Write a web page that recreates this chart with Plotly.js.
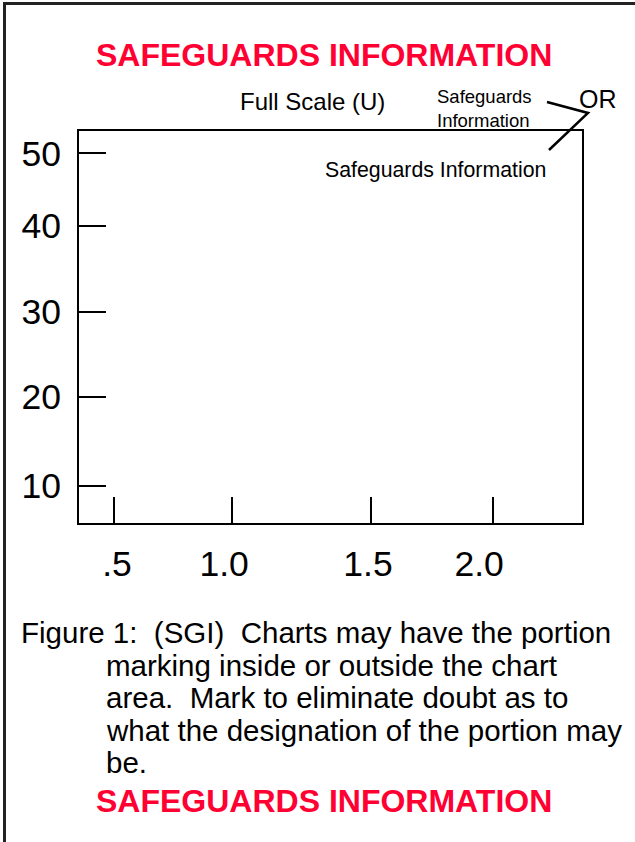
<!DOCTYPE html>
<html>
<head>
<meta charset="utf-8">
<script src="https://cdn.plot.ly/plotly-3.0.1.min.js"></script>
<style>
  html, body { margin: 0; padding: 0; background: #fff; }
  #chart { width: 635px; height: 842px; }
</style>
</head>
<body>
<div id="chart"></div>
<script>
// ---- data ----
var xTickVals   = [0.5, 0.968, 1.516, 2.0];      // positions of the tick marks
var xLabelVals  = [0.512, 0.936, 1.505, 1.945];  // positions of the tick labels
var xTickText   = ['.5', '1.0', '1.5', '2.0'];
var xRange      = [0.3615, 2.352];
var yTickVals   = [10, 20.71, 30.94, 41.28, 50];
var yTickText   = ['10', '20', '30', '40', '50'];
var yRange      = [5.51, 52.68];

var titleText   = 'SAFEGUARDS INFORMATION';
var scaleText   = 'Full Scale (U)';
var smallMark   = 'Safeguards<br>Information';
var orText      = 'OR';
var insideMark  = 'Safeguards Information';
var captionLines = [
  'Figure 1:  (SGI)  Charts may have the portion',
  'marking inside or outside the chart',
  'area.  Mark to eliminate doubt as to',
  'what the designation of the portion may',
  'be.'
];

// ---- layout geometry ----
var W = 635, H = 842;
var L = 79, T = 131, PW = 503, PH = 392;
function px(x) { return (x - L) / PW; }
function py(y) { return 1 - (y - T) / PH; }

var FONT = 'Liberation Sans, Arial, Helvetica, sans-serif';
var RED = '#ff0033';

var annotations = [];
function ann(text, x, y, size, opts) {
  var a = {
    text: text, x: px(x), y: py(y), xref: 'paper', yref: 'paper',
    showarrow: false, xanchor: 'left', yanchor: 'middle',
    font: { family: FONT, size: size, color: '#000' }
  };
  for (var k in (opts || {})) a[k] = opts[k];
  return a;
}

annotations.push(ann('<b>' + titleText + '</b>', 324, 55, 32, { xanchor: 'center',
  font: { family: FONT, size: 32, color: RED } }));
annotations.push(ann('<b>' + titleText + '</b>', 324, 801, 32, { xanchor: 'center',
  font: { family: FONT, size: 32, color: RED } }));
annotations.push(ann(scaleText, 312, 101, 24, { xanchor: 'center' }));
annotations.push(ann(smallMark, 435, 108, 18.5, { align: 'left' }));
annotations.push(ann(orText, 577, 99, 25));
annotations.push(ann(insideMark, 323, 170, 21.3));

var capX = [19, 104, 104, 104, 104];
var capY = [632, 665, 697, 730, 762];
for (var i = 0; i < captionLines.length; i++) {
  annotations.push(ann(captionLines[i], capX[i], capY[i], 29.5));
}

var shapes = [
  // outer frame
  { type: 'rect', xref: 'paper', yref: 'paper',
    x0: px(4.5), x1: px(650), y0: py(3.5), y1: py(860),
    line: { color: '#222', width: 3 } },
  // leader lines for the "OR" marking
  { type: 'path', xref: 'paper', yref: 'paper',
    path: 'M ' + px(547) + ' ' + py(102) + ' L ' + px(588) + ' ' + py(113) +
          ' L ' + px(549) + ' ' + py(150),
    line: { color: '#000', width: 2.5 } }
];

var axisCommon = {
  showgrid: false, zeroline: false, showline: true, linewidth: 2,
  linecolor: '#000', mirror: true, ticks: 'inside', tickwidth: 2,
  tickcolor: '#000', tickfont: { family: FONT, size: 35.5, color: '#000' },
  fixedrange: true
};

var traces = [
  { type: 'scatter', x: [], y: [], xaxis: 'x', yaxis: 'y', showlegend: false },
  { type: 'scatter', x: [], y: [], xaxis: 'x2', yaxis: 'y', showlegend: false }
];

var layout = {
  width: W, height: H,
  margin: { l: L, r: W - L - PW, t: T, b: H - T - PH, pad: 0 },
  paper_bgcolor: '#fff', plot_bgcolor: '#fff',
  showlegend: false,
  xaxis: Object.assign({}, axisCommon, {
    range: xRange, tickmode: 'array', tickvals: xTickVals,
    ticktext: xTickText, showticklabels: false, ticklen: 26
  }),
  xaxis2: Object.assign({}, axisCommon, {
    overlaying: 'x', anchor: 'y', side: 'bottom', range: xRange,
    tickmode: 'array', tickvals: xLabelVals, ticktext: xTickText,
    ticks: '', showline: false, mirror: false, ticklabelstandoff: 16
  }),
  yaxis: Object.assign({}, axisCommon, {
    range: yRange, tickmode: 'array', tickvals: yTickVals,
    ticktext: yTickText, ticklen: 27, ticklabelstandoff: 9
  }),
  annotations: annotations,
  shapes: shapes
};

Plotly.newPlot('chart', traces, layout, { staticPlot: true, displayModeBar: false });
</script>
</body>
</html>
